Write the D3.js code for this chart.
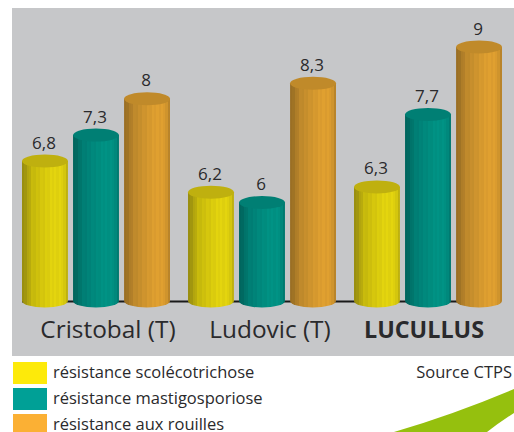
<!DOCTYPE html>
<html>
<head>
<meta charset="utf-8">
<script src="https://cdn.jsdelivr.net/npm/d3@7"></script>
<style>
	html, body { margin: 0; padding: 0; background: #fff; }
	svg { display: block; }
	text { font-family: "Open Sans", "Noto Sans", sans-serif; fill: #2a2a2c; }
</style>
</head>
<body>
<svg id="chart" width="514" height="432"></svg>
<script>
// values
const varieties = ["Cristobal (T)", "Ludovic (T)", "LUCULLUS"];
const seriesNames = ["résistance scolécotrichose", "résistance mastigosporiose", "résistance aux rouilles"];
const scolecotrichose = [6.8, 6.2, 6.3];
const mastigosporiose = [7.3, 6, 7.7];
const rouilles = [8, 8.3, 9];
const allSeries = [scolecotrichose, mastigosporiose, rouilles];

const legendColors = ["#fdea0a", "#00a096", "#fbb034"];
const topColors = ["#bfb00f", "#007f74", "#c08a2a"];
// dark edge, mid, light, dark edge, for the cylinder shading
const bodyColors = [
	["#9a8f10", "#c9bb0c", "#e4d50e", "#b3a70e"],
	["#00665e", "#007f75", "#009385", "#00736a"],
	["#9b6f24", "#c08a2c", "#e0a030", "#ad7c28"]
];

const svg = d3.select("#chart");

// grey panel
svg.append("rect")
	.attr("x", 12).attr("y", 8)
	.attr("width", 502).attr("height", 348)
	.attr("fill", "#c6c7c9");

// green corner shape
svg.append("path")
	.attr("d", "M394,432 Q455,414 514,389 L514,413 Q500,422 487,432 Z")
	.attr("fill", "#95c00e");

const x0 = d3.scaleBand()
	.domain(d3.range(varieties.length))
	.range([5, 503]);

const x1 = d3.scaleBand()
	.domain(d3.range(allSeries.length))
	.range([17, 165])
	.paddingInner(0.1);

const y = d3.scaleLinear()
	.domain([4.1, 9])
	.range([301, 47]);

const rx = x1.bandwidth() / 2;
const ry = 6.5;

// shading with thin vertical stripes
const defs = svg.append("defs");
bodyColors.forEach((c, i) => {
	const grad = defs.append("linearGradient")
		.attr("id", "body" + i)
		.attr("x1", 0).attr("x2", 1).attr("y1", 0).attr("y2", 0);
	const ramp = d3.scaleLinear()
		.domain([0, 0.2, 0.62, 0.85, 1])
		.range([c[0], c[1], c[2], c[2], c[3]]);
	d3.range(0, 1.001, 0.05).forEach((t, k) => {
		const col = d3.color(ramp(t));
		grad.append("stop").attr("offset", t).attr("stop-color", k % 2 ? col.darker(0.08) : col);
		grad.append("stop").attr("offset", t + 0.05).attr("stop-color", k % 2 ? col.darker(0.08) : col);
	});
});

// baseline behind the bars
svg.append("line")
	.attr("x1", 22).attr("x2", 500)
	.attr("y1", 301.5).attr("y2", 301.5)
	.attr("stroke", "#1a1a1a")
	.attr("stroke-width", 2);

const groups = svg.selectAll("g.variety")
	.data(varieties)
	.enter()
	.append("g")
	.attr("class", "variety")
	.attr("transform", (d, i) => "translate(" + x0(i) + ",0)");

// the names do not sit quite centred under their bars
const labelShift = [103, 99, 87];

groups.each(function(name, g) {
	const cyl = d3.select(this).selectAll("g.cyl")
		.data(allSeries.map((s, i) => ({ s: i, v: s[g] })))
		.enter()
		.append("g")
		.attr("class", "cyl");

	cyl.append("path")
		.attr("d", d => {
			const l = x1(d.s), r = l + x1.bandwidth(), t = y(d.v), b = y.range()[0];
			return "M" + l + "," + t + "L" + l + "," + b +
				"A" + rx + "," + ry + " 0 0 0 " + r + "," + b +
				"L" + r + "," + t + "Z";
		})
		.attr("fill", d => "url(#body" + d.s + ")");

	cyl.append("ellipse")
		.attr("cx", d => x1(d.s) + rx)
		.attr("cy", d => y(d.v))
		.attr("rx", rx)
		.attr("ry", ry)
		.attr("fill", d => topColors[d.s]);

	cyl.append("text")
		.attr("x", d => x1(d.s) + rx - 1)
		.attr("y", d => y(d.v) - 12.5)
		.attr("text-anchor", "middle")
		.attr("font-size", 17)
		.text(d => String(d.v).replace(".", ","));

	d3.select(this).append("text")
		.attr("x", labelShift[g])
		.attr("y", 338)
		.attr("text-anchor", "middle")
		.attr("font-size", g === 2 ? 23.3 : 24.4)
		.attr("font-weight", g === 2 ? 700 : 400)
		.text(name);
});

// legend
const legendY = d3.scalePoint()
	.domain(d3.range(seriesNames.length))
	.range([362, 414]);

const legend = svg.selectAll("g.legend")
	.data(seriesNames)
	.enter()
	.append("g")
	.attr("class", "legend")
	.attr("transform", (d, i) => "translate(13," + legendY(i) + ")");

legend.append("rect")
	.attr("width", 34)
	.attr("height", 22)
	.attr("fill", (d, i) => legendColors[i]);

legend.append("text")
	.attr("x", 40)
	.attr("y", 16)
	.attr("font-size", 16.5)
	.text(d => d);

svg.append("text")
	.attr("x", 512)
	.attr("y", 378)
	.attr("text-anchor", "end")
	.attr("font-size", 16.5)
	.text("Source CTPS");
</script>
</body>
</html>
